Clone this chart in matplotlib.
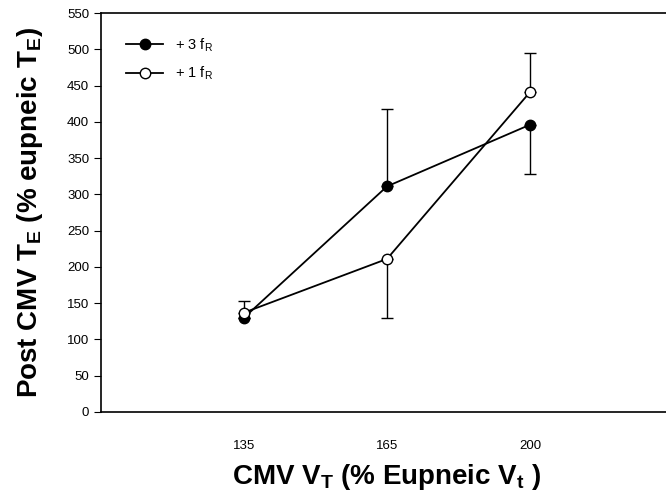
import matplotlib
matplotlib.use("Agg")
import matplotlib.pyplot as plt
from matplotlib.lines import Line2D
import numpy as np

# data
categories = ["135", "165", "200"]
fr3_mean = [130, 311, 396]
fr3_err_lo = [0, 0, 68]
fr3_err_hi = [0, 106, 0]
fr1_mean = [137, 211, 441]
fr1_err_lo = [0, 81, 0]
fr1_err_hi = [16, 0, 54]

plt.rcParams['font.family'] = ['Liberation Sans', 'DejaVu Sans']
plt.rcParams['mathtext.fontset'] = 'custom'
plt.rcParams['mathtext.rm'] = 'Liberation Sans'
plt.rcParams['mathtext.bf'] = 'Liberation Sans:bold'

fig = plt.figure(figsize=(6.66, 4.98), dpi=100)
ax = fig.add_axes([101 / 666, 1 - 412 / 498, 572 / 666, 399 / 498])

x = np.arange(1, len(categories) + 1)

ax.errorbar(x, fr3_mean, yerr=[fr3_err_lo, fr3_err_hi], color="black", lw=1.3,
            marker="o", ms=7.5, mfc="black", mec="black", capsize=4, elinewidth=1,
            capthick=1, zorder=3)
ax.errorbar(x, fr1_mean, yerr=[fr1_err_lo, fr1_err_hi], color="black", lw=1.3,
            marker="o", ms=7.5, mfc="white", mec="black", capsize=4, elinewidth=1,
            capthick=1, zorder=4)

ax.set_xlim(0, 4)
ax.set_ylim(0, 550)
ax.set_xticks(x)
ax.set_xticklabels(categories)
ax.set_yticks(np.arange(0, 551, 50))
ax.tick_params(axis="x", length=0, pad=20, labelsize=9.5)
ax.tick_params(axis="y", length=5, direction="out", labelsize=9.5)
ax.spines["right"].set_visible(False)
for s in ["left", "bottom", "top"]:
    ax.spines[s].set_linewidth(1.2)

ax.set_xlabel(r"CMV V$_\mathbf{T}$ (% Eupneic V$_\mathbf{t}$ )",
              fontsize=20, fontweight="bold", labelpad=7)
ax.set_ylabel(r"Post CMV T$_\mathbf{E}$ (% eupneic T$_\mathbf{E}$)",
              fontsize=20, fontweight="bold", labelpad=16)

handles = [
    Line2D([], [], color="black", lw=1.3, marker="o", ms=7.5, mfc="black", mec="black"),
    Line2D([], [], color="black", lw=1.3, marker="o", ms=7.5, mfc="white", mec="black"),
]
labels = [r"+ 3 f$_\mathregular{R}$", r"+ 1 f$_\mathregular{R}$"]
ax.legend(handles, labels, loc="upper left", bbox_to_anchor=(0.02, 0.975),
          frameon=False, fontsize=10.5, handlelength=2.6, labelspacing=0.75)

fig.savefig("out.png", dpi=100)
